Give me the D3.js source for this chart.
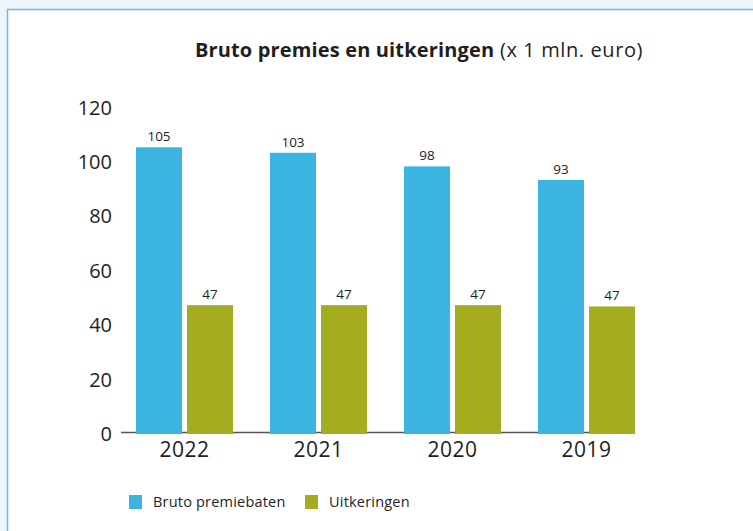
<!DOCTYPE html>
<html>
<head>
<meta charset="utf-8">
<script src="https://cdn.jsdelivr.net/npm/d3@7"></script>
<style>
  body { margin: 0; background: #eef6fc; }
  text { font-family: 'Open Sans', sans-serif; fill: #1e1e1e; }
</style>
</head>
<body>
<script>
var width = 753
var height = 531

var years = ['2022', '2021', '2020', '2019']
var series = ['Bruto premiebaten', 'Uitkeringen']
var premiebaten = [105, 103, 98, 93]
var uitkeringen = [47, 47, 47, 46.5]
var yTicks = [0, 20, 40, 60, 80, 100, 120]
var colours = ['#3bb4e1', '#a3ad1f']

var svg = d3.select('body').append('svg')
  .attr('width', width)
  .attr('height', height)

// white panel with light blue border
svg.append('rect')
  .attr('x', 7.5)
  .attr('y', 9.5)
  .attr('width', width)
  .attr('height', height)
  .attr('fill', '#fff')
  .attr('stroke', '#5cc0ea')
  .attr('stroke-width', 1.5)

var x0 = d3.scaleBand().domain(years).range([117.5, 653.5])
var x1 = d3.scaleBand().domain(series).range([18.5, 115.5]).paddingInner(5 / 51)
var y = d3.scaleLinear().domain([0, 120]).range([433, 106.5])

var rows = years.map(function (yr, i) {
  return { year: yr, values: [premiebaten[i], uitkeringen[i]] }
})

// title
var title = svg.append('text')
  .attr('x', 419)
  .attr('y', 57)
  .attr('text-anchor', 'middle')
  .style('font-size', '20px')
title.append('tspan').style('font-weight', 'bold').style('letter-spacing', '0.15px').text('Bruto premies en uitkeringen')
title.append('tspan').style('letter-spacing', '0.6px').text(' (x 1 mln. euro)')

// y tick labels
svg.selectAll('.ytick')
  .data(yTicks)
  .enter().append('text')
  .attr('class', 'ytick')
  .attr('x', 112)
  .attr('y', function (d) { return y(d) + 8 })
  .attr('text-anchor', 'end')
  .style('font-size', '20px')
  .text(function (d) { return d })

// baseline
svg.append('line')
  .attr('x1', 121)
  .attr('x2', 634)
  .attr('y1', y(0) - 0.5)
  .attr('y2', y(0) - 0.5)
  .attr('stroke', '#555')
  .attr('stroke-width', 1.5)

var groups = svg.selectAll('.group')
  .data(rows)
  .enter().append('g')
  .attr('class', 'group')
  .attr('transform', function (d) { return 'translate(' + x0(d.year) + ',0)' })

groups.selectAll('rect')
  .data(function (d) { return d.values.map(function (v, j) { return { s: series[j], v: v, j: j } }) })
  .enter().append('rect')
  .attr('x', function (d) { return x1(d.s) })
  .attr('y', function (d) { return y(d.v) })
  .attr('width', x1.bandwidth())
  .attr('height', function (d) { return y(0) - y(d.v) + 1 })
  .attr('fill', function (d) { return colours[d.j] })

groups.selectAll('.val')
  .data(function (d) { return d.values.map(function (v, j) { return { s: series[j], v: v } }) })
  .enter().append('text')
  .attr('class', 'val')
  .attr('x', function (d) { return x1(d.s) + x1.bandwidth() / 2 })
  .attr('y', function (d) { return y(d.v) - 6 })
  .attr('text-anchor', 'middle')
  .style('font-size', '13.5px')
  .text(function (d) { return Math.round(d.v) })

groups.append('text')
  .attr('x', x0.bandwidth() / 2)
  .attr('y', 457)
  .attr('text-anchor', 'middle')
  .style('font-size', '21px')
  .style('letter-spacing', '0.5px')
  .text(function (d) { return d.year })

// legend
var legend = svg.selectAll('.legend')
  .data(series)
  .enter().append('g')
  .attr('class', 'legend')
  .attr('transform', function (d, i) { return 'translate(' + [129, 305][i] + ',495)' })

legend.append('rect')
  .attr('width', 13)
  .attr('height', 14)
  .attr('fill', function (d, i) { return colours[i] })

legend.append('text')
  .attr('x', 24)
  .attr('y', 12)
  .style('font-size', '14.5px')
  .style('letter-spacing', '0.2px')
  .text(function (d) { return d })
</script>
</body>
</html>
